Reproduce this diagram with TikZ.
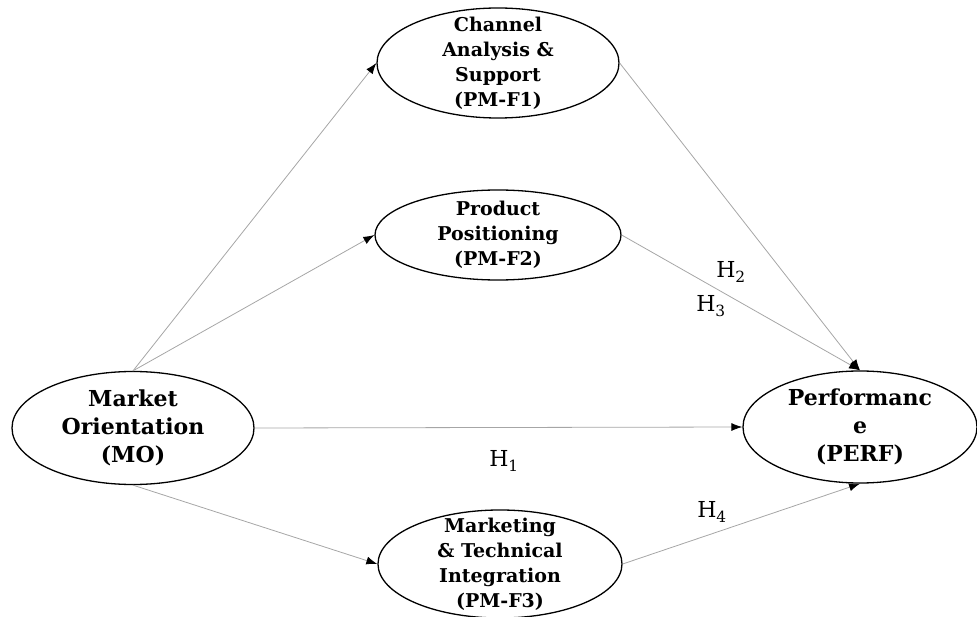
\documentclass[tikz,border=0pt]{standalone}
\usepackage{fontspec}
\setmainfont{DejaVu Serif}
\usetikzlibrary{shapes.geometric,arrows.meta}
\tikzset{
  construct/.style={draw,line width=1.3pt,ellipse,align=center,inner xsep=0pt,inner ysep=-10pt,
    font=\bfseries\fontsize{19}{25}\selectfont},
  bigconstruct/.style={construct,font=\bfseries\fontsize{22}{28}\selectfont},
  link/.style={draw=gray!70,line width=0.8pt,-{Latex[color=black,length=11pt,width=8pt]}},
  hyp/.style={font=\fontsize{22}{26}\selectfont}
}
\begin{document}
\begin{tikzpicture}[x=1pt,y=-1pt,line cap=round,line join=round]
\useasboundingbox (0,0) rectangle (977,617);
% constructs
\node[construct,minimum width=242pt,minimum height=110pt] (pmf1) at (498,63) {Channel\\Analysis \&\\Support\\(PM-F1)};
\node[construct,minimum width=246pt,minimum height=90pt] (pmf2) at (498,235) {Product\\Positioning\\(PM-F2)};
\node[construct,minimum width=244pt,minimum height=108pt] (pmf3) at (500,564) {Marketing\\\& Technical\\Integration\\(PM-F3)};
\node[bigconstruct,minimum width=242pt,minimum height=113pt] (mo) at (133,428) {Market\\Orientation\\(MO)};
\node[bigconstruct,minimum width=234pt,minimum height=112pt] (perf) at (860,427) {Performanc\\e\\(PERF)};
% paths
\draw[link] (mo.north) -- (pmf1.west);
\draw[link] (mo.north) -- (pmf2.west);
\draw[link] (mo.east) -- (perf.west);
\draw[link] (mo.south) -- (pmf3.west);
\draw[link] (pmf1.east) -- (perf.north);
\draw[link] (pmf2.east) -- (perf.north);
\draw[link] (pmf3.east) -- (perf.south);
% hypotheses
\node[hyp] (h1) at (504,461) {H\textsubscript{1}};
\node[hyp] (h2) at (731,272) {H\textsubscript{2}};
\node[hyp] (h3) at (711,306) {H\textsubscript{3}};
\node[hyp] (h4) at (712,512) {H\textsubscript{4}};
\end{tikzpicture}
\end{document}
